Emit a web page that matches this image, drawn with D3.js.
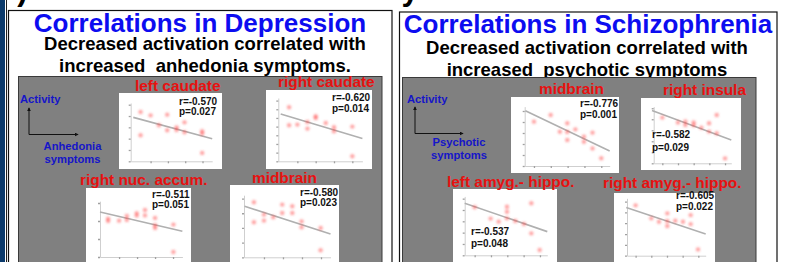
<!DOCTYPE html>
<html><head><meta charset="utf-8">
<script src="https://cdn.jsdelivr.net/npm/d3@7/dist/d3.min.js"></script>
<style>
body{margin:0;background:#fff;}
svg{display:block;font-family:"Liberation Sans",Arial,Helvetica,sans-serif;}
</style>
</head><body>
<svg id="c" width="785" height="262"></svg>
<script>
// ---------- DATA ----------
const slideTitle = "3) Correlations with Severity Measures";
const panelTitles = ["Correlations in Depression", "Correlations in Schizophrenia"];
const subtitleLine1 = ["Decreased activation correlated with", "Decreased activation correlated with"];
const subtitleLine2 = ["increased  anhedonia symptoms.", "increased  psychotic symptoms"];
const axisYLabel = ["Activity", "Activity"];
const axisXLabel1 = ["Anhedonia", "Psychotic"];
const axisXLabel2 = ["symptoms", "symptoms"];

const regions = ["left caudate", "right caudate", "right nuc. accum.", "midbrain",
                 "midbrain", "right insula", "left amyg.- hippo.", "right amyg.- hippo."];
const rValues = ["-0.570", "-0.620", "-0.511", "-0.580", "-0.776", "-0.582", "-0.537", "-0.605"];
const pValues = ["0.027", "0.014", "0.051", "0.023", "0.001", "0.029", "0.048", "0.022"];

const ptsLeftCaudate = [[0.42,4.35],[0.42,2.3],[1.0,4.06],[1.48,3.18],[1.96,4.12],[1.96,2.74],[2.5,3.0],[2.5,2.76],[2.96,3.44],[2.96,2.56],[3.98,2.65],[3.98,2.45],[3.98,0.74]];
const ptsRightCaudate = [[0.55,6.23],[0.55,4.15],[1.0,4.23],[1.55,4.54],[1.55,3.77],[2.0,5.19],[2.0,5.0],[2.55,4.42],[3.0,3.92],[3.0,3.46],[4.0,4.0],[4.0,0.58]];
const ptsRightNucAccum = [[0.39,2.13],[0.39,2.0],[1.0,2.02],[1.43,2.28],[1.43,2.06],[1.98,2.44],[1.98,2.3],[2.44,2.61],[2.44,2.31],[3.0,2.17],[3.0,1.76],[3.0,1.61],[4.02,1.8],[4.02,0.28]];
const ptsMidbrainDep = [[0.47,3.75],[0.47,2.39],[1.0,2.91],[1.0,2.5],[1.49,2.73],[1.96,3.59],[1.96,3.02],[2.49,3.48],[2.49,3.02],[2.98,2.45],[2.98,2.05],[3.98,2.0],[3.98,0.48]];
const ptsMidbrainScz = [[1.0,4.03],[1.99,4.64],[2.54,3.12],[2.98,3.88],[2.98,3.09],[2.98,2.36],[3.46,3.33],[3.97,2.67],[3.97,2.21],[4.48,3.03],[4.48,1.6],[5.0,0.7]];
const ptsRightInsula = [[1.0,4.15],[2.0,3.7],[2.47,3.79],[2.47,3.48],[3.0,3.7],[3.0,3.45],[3.49,3.24],[3.98,3.64],[3.98,2.88],[4.47,4.39],[4.47,2.73],[5.0,0.45]];
const ptsLeftAmygHippo = [[1.0,4.24],[1.98,3.24],[2.47,2.97],[2.98,4.29],[2.98,3.85],[2.98,3.26],[3.49,3.03],[4.02,2.76],[4.47,4.59],[4.47,1.94],[4.98,0.47]];
const ptsRightAmygHippo = [[1.0,4.65],[2.0,3.45],[2.49,3.14],[3.02,3.91],[3.02,3.2],[3.02,2.74],[3.53,3.23],[4.02,3.14],[4.51,3.75],[4.51,2.92],[4.98,0.58]];
const allPoints = [ptsLeftCaudate, ptsRightCaudate, ptsRightNucAccum, ptsMidbrainDep,
                   ptsMidbrainScz, ptsRightInsula, ptsLeftAmygHippo, ptsRightAmygHippo];

// regression line end points [x0, y0, x1, y1] in data units
const fitLines = [[0,3.88,4.56,2.0],[0.09,5.46,4.55,2.62],[-0.06,2.5,4.52,1.43],[-0.02,3.48,4.5,1.59],
                  [0.49,5.03,5.5,1.36],[0.34,4.79,5.4,2.12],[0.39,4.59,5.45,2.09],[0.4,4.46,5.47,2.0]];
const xTickValues = [[1,2,3,4],[1,2,3,4],[1,2,3,4],[1,2,3,4],[1,2,3,4,5],[1,2,3,4,5],[1,2,3,4,5],[1,2,3,4,5]];
const yTickValues = [[0,1,2,3,4,5],[0,1,2,3,4,5,6,7],[0,1,2,3],[0,1,2,3,4],[0,1,2,3,4,5],[0,1,2,3,4,5],[0,1,2,3,4,5],[0,1,2,3,4,5]];
const xDomains = [[-0.15,4.56],[-0.04,4.55],[-0.06,4.52],[-0.05,4.5],[0.45,5.5],[0.45,5.4],[0.39,5.45],[0.45,5.47]];
const yDomains = [[0,5.15],[0,7.3],[0,3.1],[0,4.23],[0,5.4],[0,5.15],[0,5.2],[0,5.3]];

// ---------- LAYOUT ----------
const W = 785, H = 262;
const plotLayout = [
  {box:[119,93,103,76],  xr:[130.7,212.2], yr:[161.3,103],   title:[135,91],  stat:[179,105,10]},
  {box:[266,90,106,79],  xr:[278.3,362.4], yr:[161.3,98],    title:[278,87],  stat:[332,100.5,11.5]},
  {box:[86,188,105,80],  xr:[100,182.4],   yr:[257,201.2],   title:[80,185],  stat:[152,197.5,10]},
  {box:[230,185,109,80], xr:[244,330.5],   yr:[257.3,195.2], title:[252,183], stat:[300,195.5,10]},
  {box:[511,97,108,76],  xr:[524.7,609.7], yr:[166,106.6],   title:[539,94],  stat:[580,107,10.5]},
  {box:[641,98,100,72],  xr:[653.7,731.3], yr:[163.3,106.6], title:[663,95],  stat:[652,138,12.5]},
  {box:[453,189,104,80], xr:[464.7,547.3], yr:[255.3,196.4], title:[447,187], stat:[471,235,12]},
  {box:[614,193,101,76], xr:[627,705.7],   yr:[255.7,198.3], title:[603,188], stat:[676,199,11]}
];
const panels = [
  {border:[8.5,10.5,383.5,260], gray:[18.5,76.5,363.5,200], cx:200, cx2:205, tY:32, s1Y:49.5, s2Y:72,
   act:[20,103], ax:[29,108,134.5,78], xl:[72.5,150,163]},
  {border:[399.5,12,377.5,260], gray:[402.5,77.5,353.5,200], cx:588, cx2:587, tY:33, s1Y:54, s2Y:76,
   act:[407,103], ax:[415,107,133.5,463], xl:[459,146,159]}
];

const svg = d3.select("#c");
const defs = svg.append("defs");
defs.append("filter").attr("id","blur").attr("x","-20%").attr("y","-20%").attr("width","140%").attr("height","140%")
  .append("feGaussianBlur").attr("stdDeviation",0.6);
defs.append("filter").attr("id","blurPt").attr("x","-50%").attr("y","-50%").attr("width","200%").attr("height","200%")
  .append("feGaussianBlur").attr("stdDeviation",0.8);
const mk = defs.append("marker").attr("id","arr").attr("viewBox","0 0 6 6").attr("refX",5).attr("refY",3)
  .attr("markerWidth",4).attr("markerHeight",4).attr("orient","auto");
mk.append("path").attr("d","M0,0L6,3L0,6Z").attr("fill","#111");

svg.append("rect").attr("width",W).attr("height",H).attr("fill","#fff");

// cropped slide title (only its lowest edge is visible)
svg.append("text").attr("x",0).attr("y",-0.3).attr("font-size",31).attr("font-weight","bold")
  .attr("fill","#000").text(slideTitle);

// left edge decorations
svg.append("rect").attr("x",0).attr("y",0).attr("width",5).attr("height",H).attr("fill","#0b3a6b");
svg.append("line").attr("x1",6.5).attr("x2",6.5).attr("y1",0).attr("y2",H).attr("stroke","#222").attr("stroke-width",1);

panels.forEach((p,i)=>{
  svg.append("rect").attr("x",p.border[0]).attr("y",p.border[1]).attr("width",p.border[2]).attr("height",p.border[3])
    .attr("fill","#fff").attr("stroke","#111").attr("stroke-width",1.2);
  svg.append("text").attr("x",p.cx).attr("y",p.tY).attr("text-anchor","middle")
    .attr("font-size",26).attr("font-weight","bold").attr("fill","#0c0cf0").text(panelTitles[i]);
  svg.append("text").attr("x",p.cx2).attr("y",p.s1Y).attr("text-anchor","middle")
    .attr("font-size",18.5).attr("font-weight","bold").attr("fill","#000").text(subtitleLine1[i]);
  svg.append("text").attr("x",p.cx2).attr("y",p.s2Y).attr("text-anchor","middle").style("white-space","pre")
    .attr("font-size",18.5).attr("font-weight","bold").attr("fill","#000").text(subtitleLine2[i]);
  svg.append("rect").attr("x",p.gray[0]).attr("y",p.gray[1]).attr("width",p.gray[2]).attr("height",p.gray[3])
    .attr("fill","#808080").attr("stroke","#3a3a3a").attr("stroke-width",1);
  svg.append("text").attr("x",p.act[0]).attr("y",p.act[1]).attr("font-size",11.2).attr("font-weight","bold")
    .attr("fill","#1515c8").text(axisYLabel[i]);
  svg.append("path").attr("d",`M${p.ax[0]},${p.ax[2]}V${p.ax[1]}`).attr("stroke","#111").attr("stroke-width",1)
    .attr("fill","none").attr("marker-end","url(#arr)");
  svg.append("path").attr("d",`M${p.ax[0]},${p.ax[2]}H${p.ax[3]}`).attr("stroke","#111").attr("stroke-width",1)
    .attr("fill","none").attr("marker-end","url(#arr)");
  svg.append("text").attr("x",p.xl[0]).attr("y",p.xl[1]).attr("text-anchor","middle").attr("font-size",11.2)
    .attr("font-weight","bold").attr("fill","#1515c8").text(axisXLabel1[i]);
  svg.append("text").attr("x",p.xl[0]).attr("y",p.xl[2]).attr("text-anchor","middle").attr("font-size",11.2)
    .attr("font-weight","bold").attr("fill","#1515c8").text(axisXLabel2[i]);
});

plotLayout.forEach((L,i)=>{
  const g = svg.append("g");
  g.append("rect").attr("x",L.box[0]).attr("y",L.box[1]).attr("width",L.box[2]).attr("height",L.box[3]).attr("fill","#fff");
  const x = d3.scaleLinear().domain(xDomains[i]).range(L.xr);
  const y = d3.scaleLinear().domain(yDomains[i]).range(L.yr);
  const inner = g.append("g").attr("filter","url(#blur)");
  const xa = inner.append("g").attr("transform",`translate(0,${L.yr[0]})`)
    .call(d3.axisBottom(x).tickValues(xTickValues[i]).tickSize(2).tickSizeOuter(0).tickFormat(""));
  const ya = inner.append("g").attr("transform",`translate(${L.xr[0]},0)`)
    .call(d3.axisLeft(y).tickValues(yTickValues[i]).tickSize(2).tickSizeOuter(0).tickFormat(""));
  [xa,ya].forEach(a=>{
    a.select(".domain").attr("stroke","#cfcfcf").attr("stroke-width",1);
    a.selectAll(".tick line").attr("stroke","#a0a0a0").attr("stroke-width",1.3);
  });
  const f = fitLines[i];
  inner.append("line").attr("x1",x(f[0])).attr("y1",y(f[1])).attr("x2",x(f[2])).attr("y2",y(f[3]))
    .attr("stroke","#b0b0b0").attr("stroke-width",1.6);
  const pts = g.append("g").attr("filter","url(#blurPt)");
  pts.selectAll("circle").data(allPoints[i]).join("circle")
    .attr("cx",d=>x(d[0])).attr("cy",d=>y(d[1])).attr("r",2.2)
    .attr("fill","#ff4d4d").attr("fill-opacity",0.5);
  g.append("text").attr("x",L.title[0]).attr("y",L.title[1]).attr("font-size",15.4).attr("font-weight","bold")
    .attr("fill","#e81010").text(regions[i]);
  g.append("text").attr("x",L.stat[0]).attr("y",L.stat[1]).attr("font-size",10).attr("font-weight","bold")
    .attr("fill","#111").text("r=" + rValues[i]);
  g.append("text").attr("x",L.stat[0]).attr("y",L.stat[1]+L.stat[2]).attr("font-size",10).attr("font-weight","bold")
    .attr("fill","#111").text("p=" + pValues[i]);
});
</script>
</body></html>
